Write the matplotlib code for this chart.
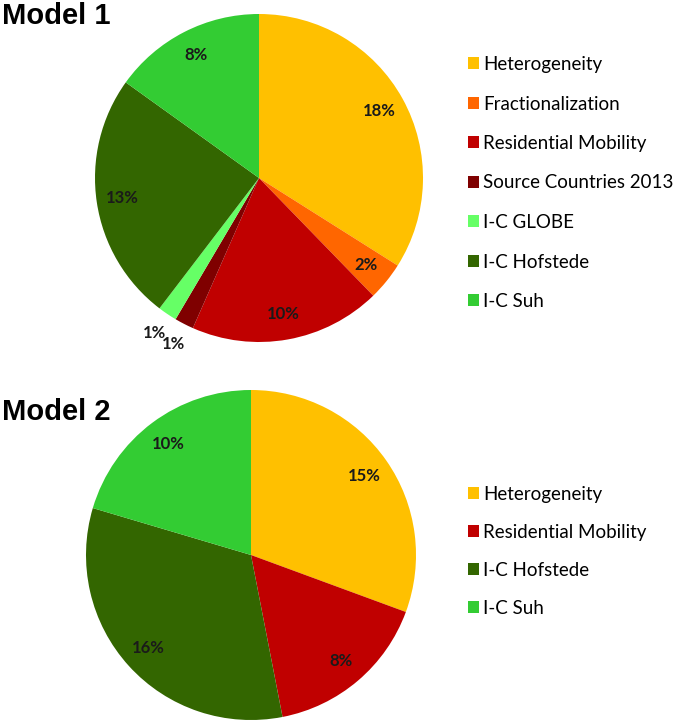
import numpy as np
import matplotlib
matplotlib.use("Agg")
import matplotlib.pyplot as plt

# ---------- data
m1_names = ["Heterogeneity", "Fractionalization", "Residential Mobility",
            "Source Countries 2013", "I-C GLOBE", "I-C Hofstede", "I-C Suh"]
m1_values = [18, 2, 10, 1, 1, 13, 8]
m1_colors = ["#FFC000", "#FF6600", "#C00000", "#7F0000", "#66FF66", "#336600", "#33CC33"]

m2_names = ["Heterogeneity", "Residential Mobility", "I-C Hofstede", "I-C Suh"]
m2_values = [15, 8, 16, 10]
m2_colors = ["#FFC000", "#C00000", "#336600", "#33CC33"]

W, H = 680, 724
fig = plt.figure(figsize=(W / 100, H / 100), dpi=100)


def px_axes(x0, y0, x1, y1):
    # pixel box (top-left origin) -> figure axes
    return fig.add_axes([x0 / W, 1 - y1 / H, (x1 - x0) / W, (y1 - y0) / H])


def draw_pie(ax, values, colors, small_r=1.14):
    wedges, texts, autotexts = ax.pie(
        values, colors=colors, startangle=90, counterclock=False,
        autopct=lambda p: "", pctdistance=0.84,
        wedgeprops=dict(linewidth=0))
    for w, t, v in zip(wedges, autotexts, values):
        t.set_text(f"{v}%")
        t.set_fontfamily("Lato")
        t.set_fontweight("bold")
        t.set_fontsize(12)
        t.set_color("#1a1a1a")
        if v <= 1:
            ang = np.deg2rad((w.theta1 + w.theta2) / 2)
            t.set_position((small_r * np.cos(ang), small_r * np.sin(ang)))
    ax.set_xlim(-1, 1)
    ax.set_ylim(-1, 1)
    ax.set_aspect("equal")
    ax.axis("off")
    return wedges


leg_kw = dict(loc="upper left", frameon=False, prop=dict(family="Lato", size=13.5),
              handlelength=0.6, handleheight=0.6, handletextpad=0.2,
              borderpad=0, borderaxespad=0)

# ---------- Model 1
ax1 = px_axes(95, 14, 423, 342)
w1 = draw_pie(ax1, m1_values, m1_colors)
fig.text(2 / W, 1 - 2 / H, "Model 1", ha="left", va="top",
         fontsize=21, fontweight="bold", family="Liberation Sans")
fig.legend(w1, m1_names, bbox_to_anchor=(468 / W, 1 - 56 / H),
           labelspacing=1.2, **leg_kw)

# ---------- Model 2
ax2 = px_axes(86, 390, 416, 720)
w2 = draw_pie(ax2, m2_values, m2_colors)
fig.text(2 / W, 1 - 398 / H, "Model 2", ha="left", va="top",
         fontsize=21, fontweight="bold", family="Liberation Sans")
fig.legend(w2, m2_names, bbox_to_anchor=(468 / W, 1 - 486 / H),
           labelspacing=1.12, **leg_kw)

fig.savefig("out.png", dpi=100)
